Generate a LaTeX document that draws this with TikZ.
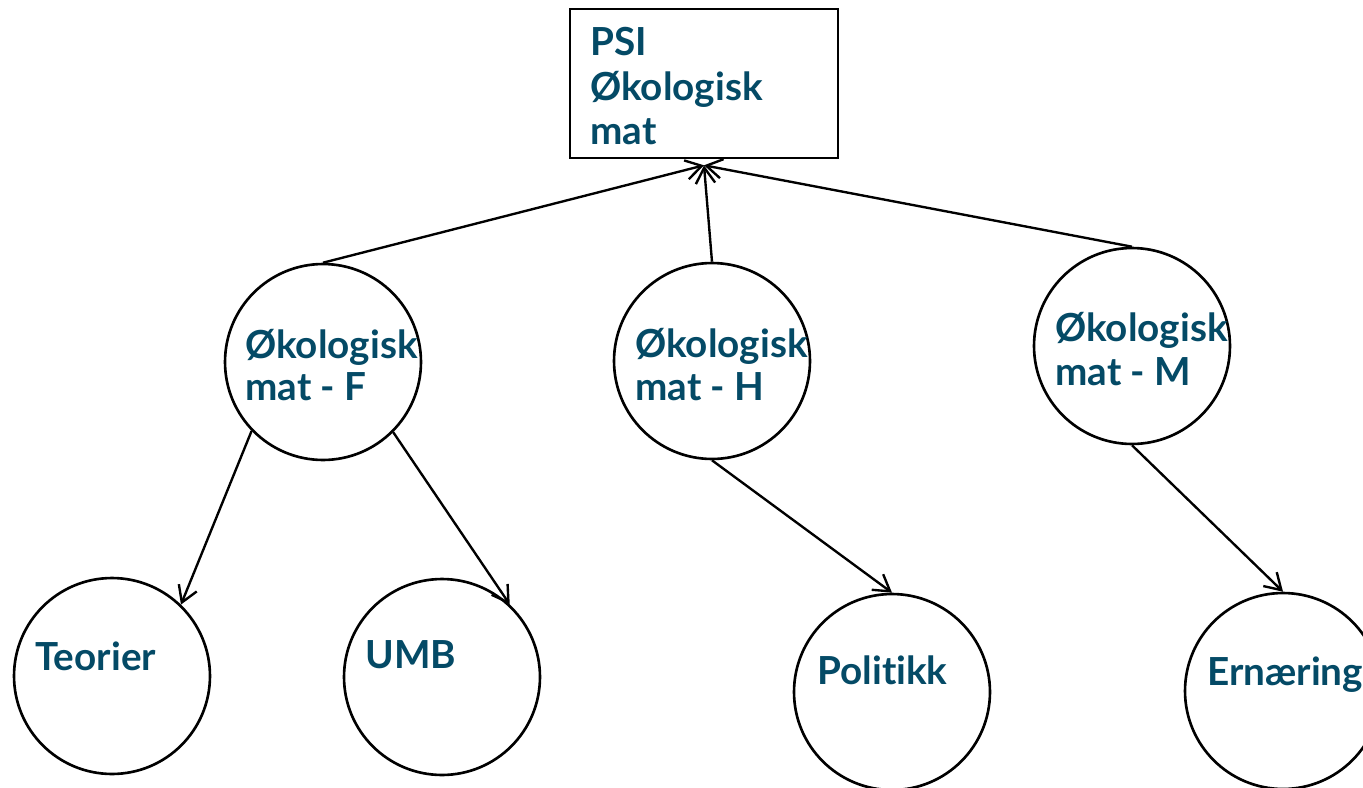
\documentclass[tikz,border=0pt]{standalone}
\usepackage{fontspec}
\setmainfont{Lato}[Ligatures={NoCommon}]
\usetikzlibrary{arrows.meta}
\definecolor{txt}{RGB}{4,74,102}
\begin{document}
\begin{tikzpicture}[x=0.02cm,y=-0.02cm,
  circ/.style={circle,draw=black,line width=1.5pt,minimum size=3.92cm,inner sep=0pt},
  boxn/.style={rectangle,draw=black,line width=1.5pt,minimum width=5.36cm,minimum height=2.98cm,inner sep=0pt},
  lbl/.style={anchor=base west,inner sep=0pt,font=\fontsize{22}{26}\selectfont\bfseries,text=txt},
  arr/.style={line width=1.35pt,-{Straight Barb[length=9pt,width=11pt,line width=1.35pt]}}]
\useasboundingbox (0,0) rectangle (1363,788);
% box
\node[boxn] (box) at (704,83.5) {};
\coordinate (tip) at ([yshift=-0.12cm]box.south);
\node[lbl] (b1) at (590,55) {PSI};
\node[lbl] (b2) at (590,100) {Økologisk};
\node[lbl] (b3) at (590,144) {mat};
% middle circles
\node[circ] (F) at (323,362) {};
\node[circ] (H) at (712,361) {};
\node[circ] (M) at (1132,346) {};
\node[lbl] (f1) at (245,358) {Økologisk};
\node[lbl] (f2) at (245,400) {mat - F};
\node[lbl] (h1) at (635,357) {Økologisk};
\node[lbl] (h2) at (635,400) {mat - H};
\node[lbl] (m1) at (1055,341) {Økologisk};
\node[lbl] (m2) at (1055,385) {mat - M};
% bottom circles
\node[circ] (T) at (112,676) {};
\node[circ] (U) at (442,677) {};
\node[circ] (P) at (892,692) {};
\node[circ] (E) at (1283,691) {};
\node[lbl] (t1) at (35,670) {Teorier};
\node[lbl] (u1) at (365,668) {UMB};
\node[lbl] (p1) at (817,684) {Politikk};
\node[lbl] (e1) at (1207,685) {Ernæring};
% connectors
\draw[arr] (F.north) -- (tip);
\draw[arr] (H.north) -- (tip);
\draw[arr] (M.north) -- (tip);
\draw[arr] (F.224) -- (T.46);
\draw[arr] (F.315) -- (U.47);
\draw[arr] (H.south) -- (P.north);
\draw[arr] (M.south) -- (E.north);
\end{tikzpicture}
\end{document}
